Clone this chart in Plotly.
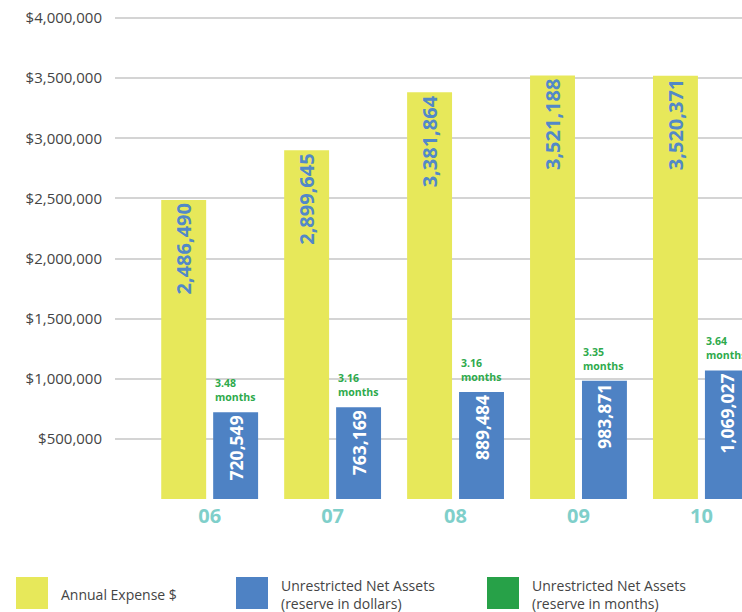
import plotly.graph_objects as go

years = ["06", "07", "08", "09", "10"]
annual_expense = [2486490, 2899645, 3381864, 3521188, 3520371]
net_assets = [720549, 763169, 889484, 983871, 1069027]
reserve_months = [3.48, 3.16, 3.16, 3.35, 3.64]
y_ticks = [500000, 1000000, 1500000, 2000000, 2500000, 3000000, 3500000, 4000000]
y_tick_labels = ["$500,000", "$1,000,000", "$1,500,000", "$2,000,000",
                 "$2,500,000", "$3,000,000", "$3,500,000", "$4,000,000"]
legend_labels = ["Annual Expense $",
                 "Unrestricted Net Assets<br>(reserve in dollars)",
                 "Unrestricted Net Assets<br>(reserve in months)"]

YELLOW = "#e7e85a"
BLUE = "#4e82c4"
GREEN = "#27a148"
GREEN_TXT = "#2eaa4c"
TEAL = "#7fcfca"
FONT = "Open Sans"

W, H = 742, 612
ML, MR, MT, MB = 115, 0, 12, 113

def px_x(p):
    return (p - ML) / (W - ML - MR)

def px_y(p):
    return (H - MB - p) / (H - MT - MB)

fig = go.Figure()
fig.add_trace(go.Bar(
    x=years, y=annual_expense, name=legend_labels[0],
    marker=dict(color=YELLOW, line=dict(width=0)),
    text=[f"{v:,}" for v in annual_expense],
    textposition="inside", insidetextanchor="end", textangle=-90,
    textfont=dict(color="#5288c8", size=20, family=FONT, weight="bold"),
))
fig.add_trace(go.Bar(
    x=years, y=net_assets, name=legend_labels[1],
    marker=dict(color=BLUE, line=dict(width=0)),
    text=[f"{v:,}" for v in net_assets],
    textposition="inside", insidetextanchor="end", textangle=-90,
    textfont=dict(color="white", size=17.5, family=FONT, weight="bold"),
))

annotations = []
for i, (v, m) in enumerate(zip(net_assets, reserve_months)):
    annotations.append(dict(
        x=i, y=v, xref="x", yref="y", text=f"{m:.2f}<br>months",
        showarrow=False, xanchor="left", yanchor="bottom", align="left",
        xshift=3, yshift=6,
        font=dict(color=GREEN_TXT, size=10.5, family=FONT, weight="bold"),
    ))

shapes = []
legend_colors = [YELLOW, BLUE, GREEN]
legend_x = [16, 236, 487]
for lx, col, lab in zip(legend_x, legend_colors, legend_labels):
    shapes.append(dict(type="rect", xref="paper", yref="paper",
                       x0=px_x(lx), x1=px_x(lx + 32), y0=px_y(609), y1=px_y(577),
                       fillcolor=col, line=dict(width=0)))
    annotations.append(dict(
        x=px_x(lx + 43), y=px_y(594), xref="paper", yref="paper", text=lab,
        showarrow=False, xanchor="left", yanchor="middle", align="left",
        font=dict(color="#444444", size=14, family=FONT),
    ))

fig.update_layout(
    width=W, height=H,
    margin=dict(l=ML, r=MR, t=MT, b=MB, pad=0),
    paper_bgcolor="white", plot_bgcolor="white",
    barmode="group", bargap=0.155, bargroupgap=0.135,
    showlegend=False,
    font=dict(family=FONT),
    shapes=shapes, annotations=annotations,
)
fig.update_xaxes(
    type="category", range=[-0.77, 4.33], showgrid=False, zeroline=False,
    showline=False, ticks="",
    tickfont=dict(color=TEAL, size=20, family=FONT, weight="bold"),
    ticklabelstandoff=3,
)
fig.update_yaxes(
    range=[0, 4050000], tickvals=y_ticks, ticktext=y_tick_labels,
    showgrid=True, gridcolor="#d4d4d4", gridwidth=1.5, zeroline=False,
    showline=False, ticks="",
    tickfont=dict(color="#444444", size=15, family=FONT),
    ticklabelstandoff=12,
)

fig.write_html(
    "out.html",
    config={"displayModeBar": False},
    post_script="document.body.style.margin='0';document.body.style.overflow='hidden';",
)
